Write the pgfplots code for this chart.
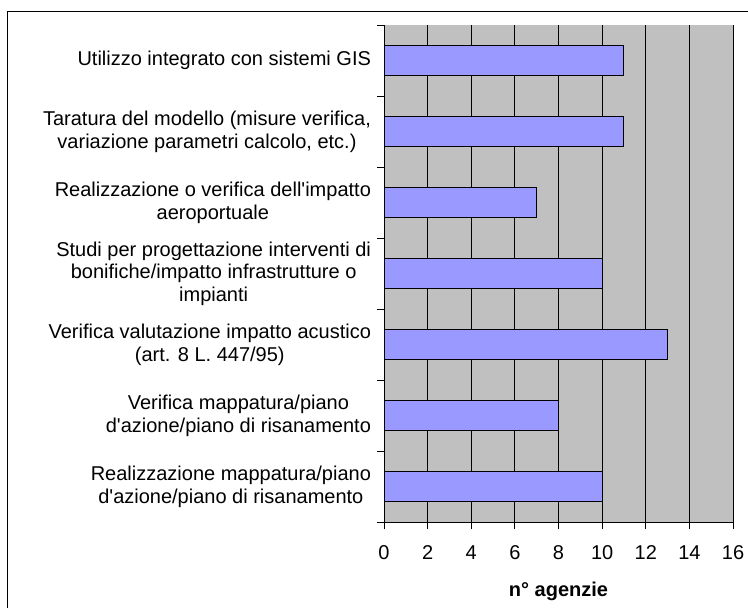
\documentclass[border=0pt]{standalone}
\usepackage{pgfplots}
\pgfplotsset{compat=1.18}
\usepackage{fontspec}
\setmainfont{Liberation Sans}
\definecolor{barfill}{RGB}{153,153,255}
\definecolor{plotbg}{RGB}{192,192,192}
\newcommand{\ap}{\textquotesingle}

\begin{document}
\begin{tikzpicture}
\useasboundingbox (0,0) rectangle (561pt,455.25pt);
\draw[line width=0.75pt] (5.25pt,-2pt) -- (5.25pt,446.25pt) -- (565pt,446.25pt);
\begin{axis}[
  at={(288pt,63.75pt)}, anchor=south west,
  scale only axis, width=261.75pt, height=372.75pt,
  xbar, bar width=0.41,
  xmin=0, xmax=16, ymin=-0.5, ymax=6.5,
  xtick={0,2,...,16},
  ytick={0,...,6},
  yticklabels={
    {Realizzazione mappatura/piano\\d\ap azione/piano di risanamento},
    {Verifica mappatura/piano\\d\ap azione/piano di risanamento},
    {Verifica valutazione impatto acustico\\(art. 8 L. 447/95)},
    {Studi per progettazione interventi di\\bonifiche/impatto infrastrutture o\\impianti},
    {Realizzazione o verifica dell\ap impatto\\aeroportuale},
    {Taratura del modello (misure verifica,\\variazione parametri calcolo, etc.)},
    {Utilizzo integrato con sistemi GIS}},
  minor ytick={-0.5,0.5,...,6.5},
  major y tick style={draw=none},
  tick align=outside,
  major tick length=5.25pt, minor tick length=5.25pt,
  axis x line*=bottom, axis y line*=left,
  axis line style={-, line width=0.75pt, black},
  tick style={line width=0.75pt, black},
  axis background/.style={fill=plotbg},
  xmajorgrids, grid style={black, line width=0.6pt},
  yticklabel style={align=center, font=\fontsize{15pt}{17pt}\selectfont, anchor=east, xshift=-1pt},
  xticklabel style={font=\fontsize{15pt}{17pt}\selectfont, yshift=-9pt},
  /pgf/number format/assume math mode=true,
  xlabel={\textbf{n° agenzie}},
  xlabel style={font=\fontsize{15pt}{17pt}\selectfont, yshift=-10pt},
  clip=false,
]
\addplot[fill=barfill, draw=black, line width=0.75pt] coordinates
  {(10,0) (8,1) (13,2) (10,3) (7,4) (11,5) (11,6)};
\end{axis}
\end{tikzpicture}
\end{document}
